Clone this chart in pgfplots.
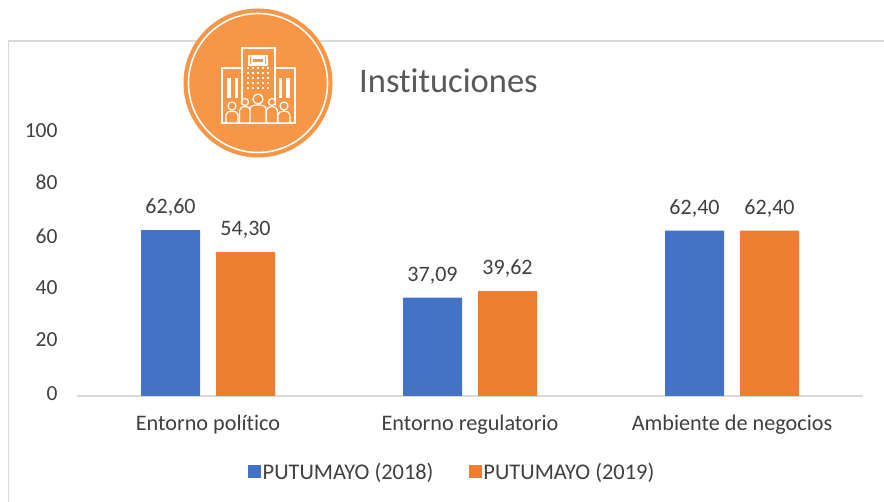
\documentclass[border=0pt]{standalone}
\usepackage{fontspec}
\setmainfont{Carlito}[Ligatures=NoCommon]
\usepackage{pgfplots}
\pgfplotsset{compat=1.18}
\definecolor{barblue}{HTML}{4472C4}
\definecolor{barorange}{HTML}{ED7D31}
\definecolor{iconorange}{HTML}{F79646}
\definecolor{txt}{HTML}{404040}
\definecolor{ttl}{HTML}{595959}
\definecolor{frame}{HTML}{D9D9D9}
\begin{document}
\begin{tikzpicture}[x=1pt,y=1pt]
\path[use as bounding box] (0,0) rectangle (884,502);
\fill[white] (0,0) rectangle (884,502);
% chart frame
\draw[frame,line width=1.2pt] (8.5,0) -- (8.5,461) -- (884,461);
\begin{axis}[
  at={(77pt,106pt)}, anchor=south west,
  scale only axis, width=786pt, height=265pt,
  xmin=-0.5, xmax=2.5, ymin=0, ymax=100,
  axis x line=bottom, axis y line=none,
  axis line style={frame,line width=1.2pt,-},
  xtick=data, xticklabels={Entorno político,Entorno regulatorio,Ambiente de negocios},
  x tick style={draw=none},
  x tick label style={font=\fontsize{22.2}{24}\selectfont,text=txt,yshift=-11pt},
  ybar, bar width=59pt,
  ytick=\empty,
  clip=false,
  nodes near coords,
  every node near coord/.append style={font=\fontsize{22}{24}\selectfont,text=txt,yshift=10pt,
    /pgf/number format/.cd,use comma,fixed,fixed zerofill,precision=2,assume math mode=true},
  legend style={draw=none,fill=none,at={(375pt,-76pt)},anchor=center,legend columns=2,
    font=\fontsize{22.4}{24}\selectfont,text=txt,
    /tikz/every even column/.append style={column sep=33pt}},
  legend image code/.code={\fill[#1,draw=none] (0pt,-6pt) rectangle (13pt,7pt);},
]
\addplot[fill=barblue,draw=none,bar shift=-37.5pt] coordinates {(0,62.60) (1,37.09) (2,62.40)};
\addplot[fill=barorange,draw=none,bar shift=37.5pt] coordinates {(0,54.30) (1,39.62) (2,62.40)};
\legend{PUTUMAYO (2018),PUTUMAYO (2019)}
\end{axis}
% y tick labels
\foreach \v/\yy in {100/371,80/320,60/266,40/214,20/162,0/108}
  \node[anchor=east,font=\fontsize{21.5}{24}\selectfont,text=txt] at (61,\yy) {\v};
% title
\node[anchor=west,font=\fontsize{34.5}{37}\selectfont,text=ttl,inner sep=0pt] at (359,421) {Instituciones};
% icon
\begin{scope}[shift={(258,419)}]
\fill[iconorange] (0,0) circle (74.5);
\draw[white,line width=1.6pt] (0,0) circle (69.5);
\begin{scope}[white,line width=1.2pt]
\draw (-16,-22) -- (-16,35) -- (17,35) -- (17,-22);
\draw (-16,15) -- (-36,15) -- (-36,-40) -- (37,-40) -- (37,15) -- (17,15);
\draw (-9,27) rectangle (9,18);
\draw (-6,25) rectangle (6,20);
\foreach \xx in {-10,-5,0,5,10} \foreach \yy in {-6,-1,4,9,14}
  \fill (\xx-1,\yy) rectangle (\xx+1,\yy+2);
\fill (-31,-15) rectangle (-27,5);
\fill (-23,-15) rectangle (-20,5);
\fill (21,-15) rectangle (24,5);
\fill (28,-15) rectangle (32,5);
% people
\foreach \cx/\cy/\r/\w in {-26/-23/4/6,-13/-19/3.5/5.5,0/-16/5/8,14/-19/3.5/5.5,26/-23/4/6}{
  \draw[fill=iconorange] (\cx,\cy) circle (\r);
  \draw[fill=iconorange] (\cx-\w,-40) -- (\cx-\w,\cy-\r-5) to[out=90,in=180] (\cx,\cy-\r-1) to[out=0,in=90] (\cx+\w,\cy-\r-5) -- (\cx+\w,-40) -- cycle;
}
\end{scope}
\end{scope}
\end{tikzpicture}
\end{document}
